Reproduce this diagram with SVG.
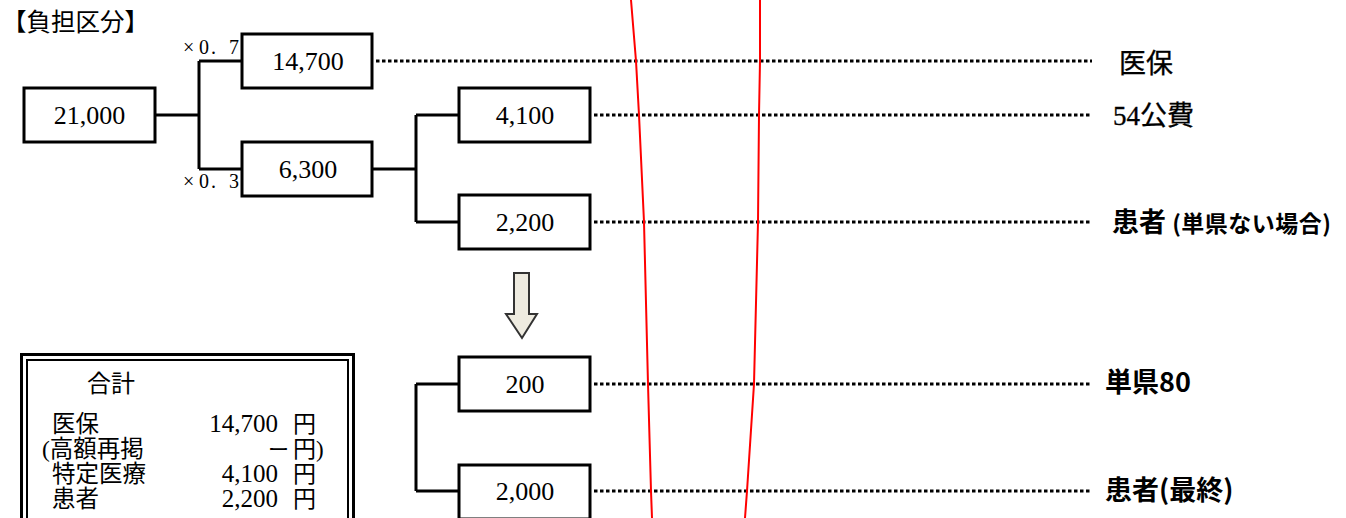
<svg xmlns="http://www.w3.org/2000/svg" width="1346" height="518" viewBox="0 0 1346 518">
<style>
.box{fill:#fff;stroke:#000;stroke-width:3}
.num{font-family:"Liberation Serif","Noto Sans CJK JP",serif;font-size:26px;text-anchor:middle;fill:#000}
.ln{fill:none;stroke:#000;stroke-width:3}
.dot{fill:none;stroke:#000;stroke-width:3;stroke-dasharray:3.5 2.5}
.red{fill:none;stroke:#ff0000;stroke-width:2}
.mul{font-family:"Liberation Serif","Noto Sans CJK JP",serif;font-size:20px;fill:#000}
.jp{font-family:"Liberation Serif","Noto Sans CJK JP",serif;fill:#000}
.lbl{font-family:"Noto Sans CJK JP",sans-serif;font-size:27px;fill:#000;font-weight:bold}
.lbs{font-family:"Liberation Serif","Noto Sans CJK JP",serif;font-size:27px;fill:#000;font-weight:normal;stroke:#000;stroke-width:0.35}
</style>
<rect width="1346" height="518" fill="#fff"/>
<text x="2" y="31" class="jp" font-size="24.5">【負担区分】</text>
<g id="connectors">
<path class="ln" d="M155,115 H199 M199,61 V169 M199,61 H242 M199,169 H242"/>
<path class="ln" d="M372,169 H416 M416,115 V222 M416,115 H459 M416,222 H459"/>
<path class="ln" d="M416,384 V491 M416,384 H459 M416,491 H459"/>
<path class="dot" d="M376,61 H1092"/>
<path class="dot" d="M594,115 H1092"/>
<path class="dot" d="M594,222 H1092"/>
<path class="dot" d="M594,384 H1090"/>
<path class="dot" d="M594,491 H1090"/>
</g>
<g id="n21000"><rect class="box" x="24" y="88" width="131" height="54"/><text class="num" x="89.5" y="124">21,000</text></g>
<g id="n14700"><rect class="box" x="242" y="34" width="130" height="54"/><text class="num" x="308" y="70">14,700</text></g>
<g id="n6300"><rect class="box" x="242" y="142" width="130" height="54"/><text class="num" x="308" y="178">6,300</text></g>
<g id="n4100"><rect class="box" x="459" y="88" width="131" height="54"/><text class="num" x="525" y="124">4,100</text></g>
<g id="n2200"><rect class="box" x="459" y="195" width="131" height="54"/><text class="num" x="525" y="231">2,200</text></g>
<g id="n200"><rect class="box" x="459" y="357" width="131" height="54"/><text class="num" x="525" y="393">200</text></g>
<g id="n2000"><rect class="box" x="459" y="465" width="131" height="54"/><text class="num" x="525" y="500">2,000</text></g>
<text class="mul" x="183 199 211 221 229" y="54">×0. 7</text>
<text class="mul" x="183 199 211 221 229" y="188">×0. 3</text>
<g id="arrow"><path d="M514,273 H529 V314 H537 L522,338 L506,314 H514 Z" fill="#eeebe0" stroke="#333" stroke-width="2" stroke-linejoin="miter"/></g>
<g id="labels">
<text class="lbs" x="1119" y="73">医保</text>
<text class="lbs" x="1113" y="125">54公費</text>
<text class="lbl" x="1112" y="232">患者 <tspan font-size="23" letter-spacing="0.5">(単県ない場合)</tspan></text>
<text class="lbl" x="1105" y="392">単県80</text>
<text class="lbl" x="1105" y="500">患者(最終)</text>
</g>
<g id="summary">
<rect x="21.5" y="354.5" width="332" height="180" fill="none" stroke="#000" stroke-width="3"/>
<rect x="27" y="360" width="321" height="170" fill="none" stroke="#000" stroke-width="2"/>
<text class="jp" x="87" y="392" font-size="24">合計</text>
<text class="jp" x="52" y="432" font-size="23.5">医保</text>
<text class="jp" x="42" y="457" font-size="23.5">(高額再掲</text>
<text class="jp" x="52" y="482" font-size="23.5">特定医療</text>
<text class="jp" x="52" y="507" font-size="23.5">患者</text>
<text class="jp" x="278" y="432" font-size="25" text-anchor="end">14,700</text>
<text class="jp" x="268" y="457" font-size="21">ー</text>
<text class="jp" x="278" y="482" font-size="25" text-anchor="end">4,100</text>
<text class="jp" x="278" y="507" font-size="25" text-anchor="end">2,200</text>
<text class="jp" x="293" y="432" font-size="23">円</text>
<text class="jp" x="293" y="457" font-size="23">円)</text>
<text class="jp" x="293" y="482" font-size="23">円</text>
<text class="jp" x="293" y="507" font-size="23">円</text>
</g>
<path class="red" d="M631,0 L636,61 L639,115 L644,222 L648,384 L651,491 L652,518"/>
<path class="red" d="M760,0 L760,61 L759,115 L758,222 L754,384 L747,491 L745,518"/>
</svg>
